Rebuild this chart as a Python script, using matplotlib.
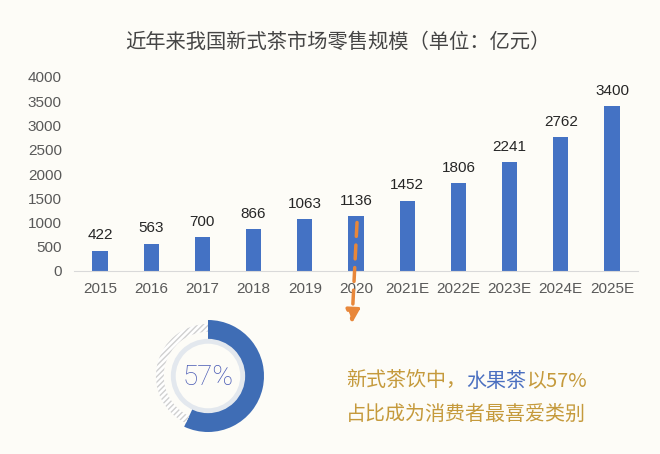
import matplotlib
matplotlib.use("Agg")
import matplotlib.pyplot as plt
from matplotlib.patches import Circle

plt.rcParams['font.family'] = ['Liberation Sans', 'Noto Sans CJK SC', 'DejaVu Sans']

years = ['2015', '2016', '2017', '2018', '2019', '2020', '2021E', '2022E', '2023E', '2024E', '2025E']
sales = [422, 563, 700, 866, 1063, 1136, 1452, 1806, 2241, 2762, 3400]
yticks = [0, 500, 1000, 1500, 2000, 2500, 3000, 3500, 4000]
title = '近年来我国新式茶市场零售规模（单位：亿元）'
share = 57
note_parts = [('新式茶饮中，', '#C59A3C'), ('水果茶', '#4A6FC0'), ('以57%', '#C59A3C')]
note_line2 = '占比成为消费者最喜爱类别'

BG = '#FDFCF7'
fig = plt.figure(figsize=(6.6, 4.54), dpi=100, facecolor=BG)
W, H = 660, 454

ax = fig.add_axes([74.4 / W, (H - 271) / H, 563.2 / W, (271 - 77) / H])
ax.set_facecolor(BG)
x = list(range(len(years)))
ax.bar(x, sales, width=0.3, color='#4472C4')
for xi, v in zip(x, sales):
    ax.annotate(str(v), (xi, v), xytext=(0, 6), textcoords='offset points',
                ha='center', va='bottom', fontsize=11, color='#262626')
ax.set_xlim(-0.5, len(years) - 0.5)
ax.set_ylim(0, 4000)
ax.set_yticks(yticks)
ax.set_xticks(x)
ax.set_xticklabels(years)
ax.tick_params(axis='both', length=0, labelsize=11, colors='#595959', pad=8)
ax.tick_params(axis='y', pad=9)
for s in ['top', 'right', 'left']:
    ax.spines[s].set_visible(False)
ax.spines['bottom'].set_color('#D9D9D9')

fig.text(338 / W, 1 - 42 / H, title, ha='center', va='center', fontsize=14.6,
         color='#454545', family=['Noto Sans CJK SC', 'DejaVu Sans'])

# dashed arrow from 2020 bar
ax.annotate('', xy=(4.92, -1080), xytext=(5.02, 1000), annotation_clip=False,
            arrowprops=dict(arrowstyle='-|>,head_length=0.8,head_width=0.4', color='#E8873A',
                            lw=2.5, linestyle=(0, (4, 2.5)), shrinkA=0, shrinkB=0))

# donut
dax = fig.add_axes([(208 - 70) / W, (H - 376 - 70) / H, 140 / W, 140 / H])
dax.set_facecolor('none')
dax.set_aspect('equal')
dax.axis('off')
dax.set_xlim(-1.19, 1.19)
dax.set_ylim(-1.19, 1.19)
R = 1.0
w1, _ = dax.pie([share, 100 - share], radius=R, startangle=90, counterclock=False,
                colors=['#3F6DB5', 'none'], wedgeprops=dict(width=0.37, linewidth=0))
w2, _ = dax.pie([share, 100 - share], radius=0.93, startangle=90, counterclock=False,
                colors=['none', 'white'], wedgeprops=dict(width=0.14, linewidth=0))
w2[1].set_hatch('//////')
w2[1].set_edgecolor('#D0D0D0')
w2[1].set_linewidth(0)
dax.add_patch(Circle((0, 0), 0.62, fill=False, edgecolor='#E3E8EE', linewidth=3.5))
dax.text(0, -0.02, f'{share}%', ha='center', va='center', fontsize=20, color='#4A5BB5',
         family=['Roboto', 'Liberation Sans'], weight='light')

# notes
fig.canvas.draw()
renderer = fig.canvas.get_renderer()
xp = 346
for txt, col in note_parts:
    t = fig.text(xp / W, 1 - 381 / H, txt, ha='left', va='center', fontsize=14.4,
                 color=col, family=['Noto Sans CJK SC', 'DejaVu Sans'])
    bb = t.get_window_extent(renderer)
    xp = bb.x1
fig.text(346 / W, 1 - 414 / H, note_line2, ha='left', va='center', fontsize=14.4,
         color='#C59A3C', family=['Noto Sans CJK SC', 'DejaVu Sans'])

fig.savefig('out.png', dpi=100, facecolor=BG)
